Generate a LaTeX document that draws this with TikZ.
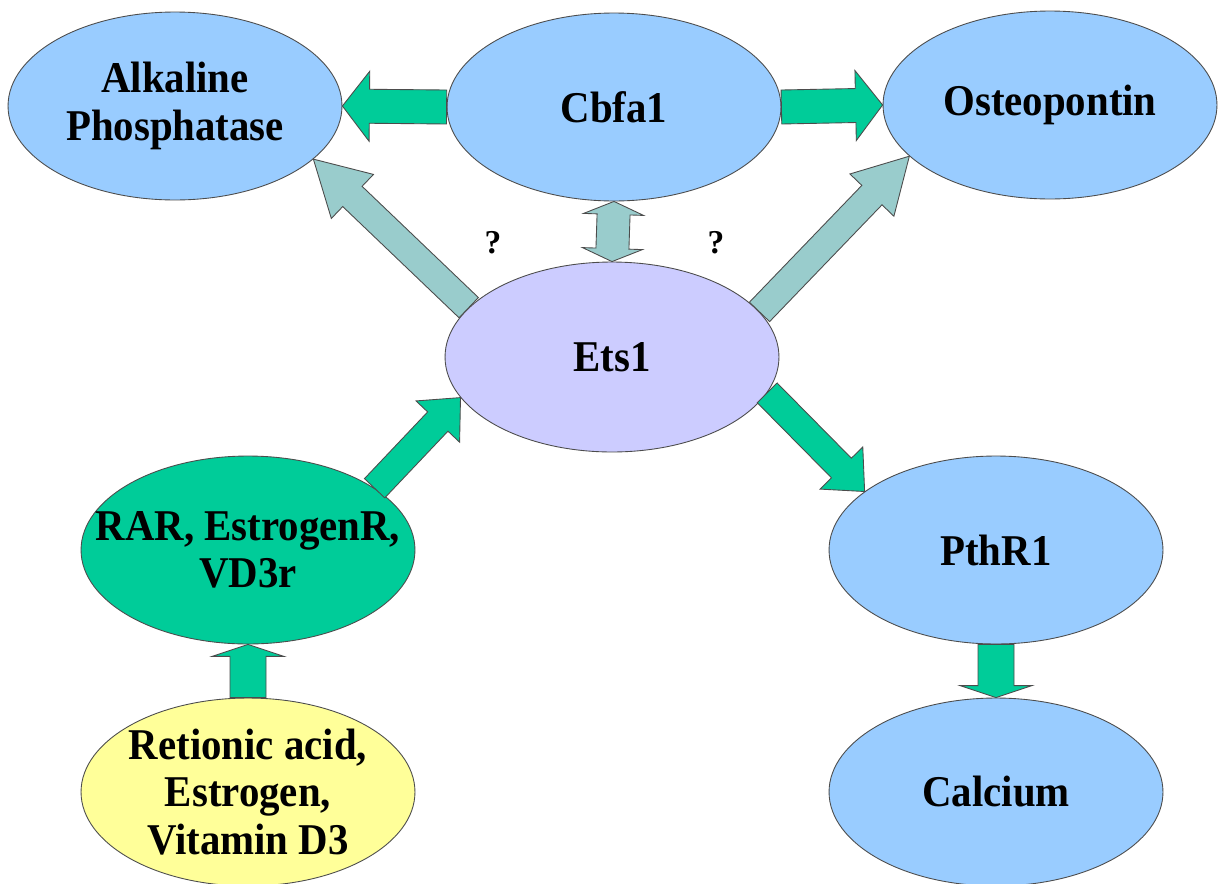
\documentclass[tikz,border=0pt]{standalone}
\usepackage{fontspec}
\setmainfont{Liberation Serif}
\newfontfamily\cellfont[FakeStretch=0.93]{Liberation Serif}
\usepackage{tikz}
\usetikzlibrary{shapes.geometric, calc}
\definecolor{cellBlue}{RGB}{153, 204, 255}
\definecolor{etsLilac}{RGB}{204, 204, 255}
\definecolor{recGreen}{RGB}{0, 204, 153}
\definecolor{ligYellow}{RGB}{255, 255, 153}
\definecolor{askTeal}{RGB}{153, 204, 204}

% block arrow: from, to, half shaft, half head, head length (cm), style
\newcommand{\blockarrow}[6]{%
  \coordinate (ba-s) at (#1);
  \coordinate (ba-e) at (#2);
  \coordinate (ba-n) at ($(ba-e)!#5cm!(ba-s)$);
  \draw[#6] ($(ba-s)!#3cm!90:(ba-e)$) -- ($(ba-n)!#3cm!90:(ba-e)$)
    -- ($(ba-n)!#4cm!90:(ba-e)$) -- (ba-e) -- ($(ba-n)!#4cm!-90:(ba-e)$)
    -- ($(ba-n)!#3cm!-90:(ba-e)$) -- ($(ba-s)!#3cm!-90:(ba-e)$) -- cycle;
}
\newcommand{\dblarrow}[6]{%
  \coordinate (ba-s) at (#1);
  \coordinate (ba-e) at (#2);
  \coordinate (ba-m) at ($(ba-s)!#5cm!(ba-e)$);
  \coordinate (ba-n) at ($(ba-e)!#5cm!(ba-s)$);
  \draw[#6] (ba-s) -- ($(ba-m)!#4cm!90:(ba-e)$) -- ($(ba-m)!#3cm!90:(ba-e)$)
    -- ($(ba-n)!#3cm!90:(ba-e)$) -- ($(ba-n)!#4cm!90:(ba-e)$) -- (ba-e)
    -- ($(ba-n)!#4cm!-90:(ba-e)$) -- ($(ba-n)!#3cm!-90:(ba-e)$)
    -- ($(ba-m)!#3cm!-90:(ba-e)$) -- ($(ba-m)!#4cm!-90:(ba-e)$) -- cycle;
}

\begin{document}
\begin{tikzpicture}[x=0.02cm, y=-0.02cm,
  cell/.style={ellipse, draw=black!70, line width=0.5pt, fill=cellBlue,
               minimum width=6.68cm, minimum height=3.76cm,
               inner xsep=-0.8cm, inner ysep=-0.3cm,
               align=center, font=\cellfont\bfseries\fontsize{25}{27}\selectfont},
  gogreen/.style={draw=black!70, line width=0.5pt, fill=recGreen},
  maybe/.style={draw=black!70, line width=0.5pt, fill=askTeal},
  ask/.style={font=\bfseries\fontsize{19}{21}\selectfont}]

  \path[use as bounding box, fill=white] (0,0) rectangle (1223,883);

  \node[cell] (alk) at (175,106)  {Alkaline\\Phosphatase};
  \node[cell] (cbf) at (614,107)  {Cbfa1};
  \node[cell] (ost) at (1050,105) {Osteopontin};
  \node[cell, fill=etsLilac, minimum height=3.8cm] (ets) at (612,357) {Ets1};
  \node[cell, fill=recGreen] (rar) at (248,550) {RAR, EstrogenR,\\VD3r};
  \node[cell, fill=ligYellow] (ret) at (248,792) {Retionic acid,\\Estrogen,\\Vitamin D3};
  \node[cell] (pth) at (996,550) {PthR1};
  \node[cell] (cal) at (996,792) {Calcium};

  \node[ask] (q1) at (493,243) {?};
  \node[ask] (q2) at (716,243) {?};

  \blockarrow{cbf.west}{alk.east}{0.34}{0.70}{0.54}{gogreen}
  \blockarrow{cbf.east}{ost.west}{0.34}{0.70}{0.54}{gogreen}
  \dblarrow{cbf.south}{ets.north}{0.33}{0.60}{0.26}{maybe}
  \blockarrow{ets.161}{alk.-21}{0.28}{0.61}{1.08}{maybe}
  \blockarrow{ets.17}{ost.200}{0.28}{0.61}{1.08}{maybe}
  \blockarrow{rar.26}{ets.195}{0.28}{0.60}{0.66}{gogreen}
  \blockarrow{ets.-13}{pth.156}{0.28}{0.60}{0.66}{gogreen}
  \blockarrow{ret.north}{rar.south}{0.36}{0.72}{0.24}{gogreen}
  \blockarrow{pth.south}{cal.north}{0.36}{0.72}{0.24}{gogreen}

\end{tikzpicture}
\end{document}
